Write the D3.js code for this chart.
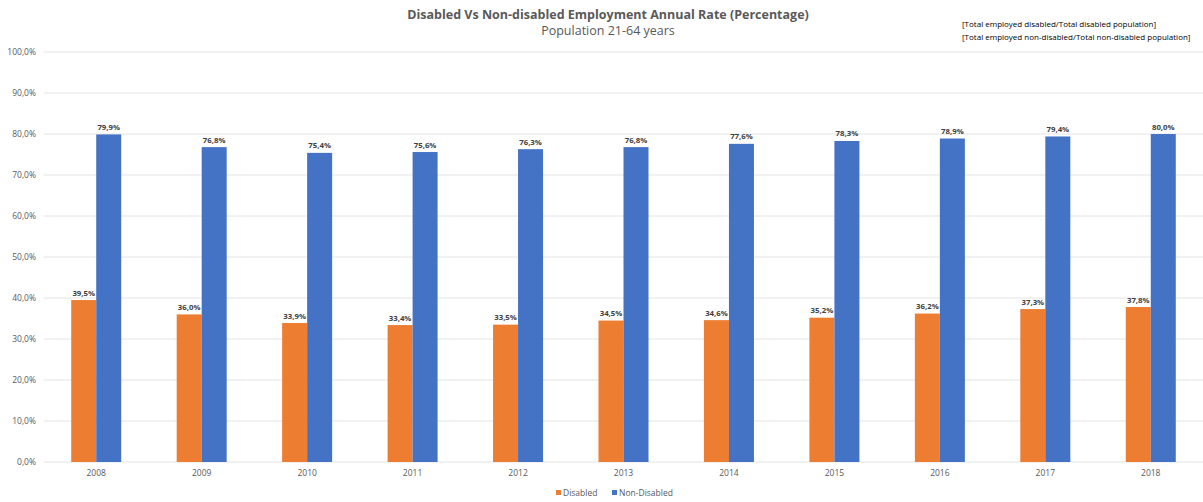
<!DOCTYPE html>
<html>
<head>
<meta charset="utf-8">
<script src="https://cdn.jsdelivr.net/npm/d3@7"></script>
<style>
  body { margin: 0; background: #fff; }
  svg text { font-family: "Open Sans", "Liberation Sans", sans-serif; }
</style>
</head>
<body>
<div id="chart"></div>
<script>
// employment rate, population 21-64
var years = ["2008", "2009", "2010", "2011", "2012", "2013", "2014", "2015", "2016", "2017", "2018"];
var disabled = [39.5, 36.0, 33.9, 33.4, 33.5, 34.5, 34.6, 35.2, 36.2, 37.3, 37.8];
var nonDisabled = [79.9, 76.8, 75.4, 75.6, 76.3, 76.8, 77.6, 78.3, 78.9, 79.4, 80.0];
var yTicks = [0, 10, 20, 30, 40, 50, 60, 70, 80, 90, 100];
var seriesNames = ["Disabled", "Non-Disabled"];
var colors = ["#ed7d31", "#4472c4"];

var W = 1203, H = 502;
var margin = {left: 43.5, right: -0.5, top: 52, bottom: 40};

var svg = d3.select("#chart").append("svg")
    .attr("width", W).attr("height", H);

var x = d3.scaleBand().domain(years)
    .range([margin.left, W - margin.right]).paddingInner(0).paddingOuter(0);
var y = d3.scaleLinear().domain([0, 100]).range([H - margin.bottom, margin.top]);

var fmt = function(v) { return v.toFixed(1).replace(".", ",") + "%"; };

// grid
svg.append("g").selectAll("line").data(yTicks).enter().append("line")
    .attr("x1", margin.left).attr("x2", W)
    .attr("y1", function(d) { return y(d); }).attr("y2", function(d) { return y(d); })
    .attr("stroke", "#e4e4e4").attr("stroke-width", 1);

svg.append("g").selectAll("text").data(yTicks).enter().append("text")
    .attr("x", 36).attr("y", function(d) { return y(d) + 3; })
    .attr("text-anchor", "end").attr("font-size", 8.5).attr("fill", "#595959")
    .text(fmt);

// x labels
svg.append("g").selectAll("text").data(years).enter().append("text")
    .attr("x", function(d) { return x(d) + x.bandwidth() / 2; })
    .attr("y", H - margin.bottom + 14)
    .attr("text-anchor", "middle").attr("font-size", 8.5).attr("fill", "#595959")
    .text(function(d) { return d; });

var barW = 25;
var series = [disabled, nonDisabled];

series.forEach(function(vals, si) {
    var g = svg.append("g");
    var data = years.map(function(yr, i) { return {year: yr, v: vals[i]}; });
    g.selectAll("rect").data(data).enter().append("rect")
        .attr("x", function(d) { return x(d.year) + x.bandwidth() / 2 - barW + si * barW; })
        .attr("width", barW)
        .attr("y", function(d) { return y(d.v); })
        .attr("height", function(d) { return y(0) - y(d.v); })
        .attr("fill", colors[si]);
    g.selectAll("text").data(data).enter().append("text")
        .attr("x", function(d) { return x(d.year) + x.bandwidth() / 2 - barW / 2 + si * barW; })
        .attr("y", function(d) { return y(d.v) - 4.5; })
        .attr("text-anchor", "middle").attr("font-size", 7.8).attr("font-weight", "bold")
        .attr("fill", "#404040")
        .text(function(d) { return fmt(d.v); });
});

// title
svg.append("text").attr("x", 608).attr("y", 19)
    .attr("text-anchor", "middle").attr("font-size", 12.5).attr("font-weight", "bold")
    .attr("fill", "#595959")
    .text("Disabled Vs Non-disabled Employment Annual Rate (Percentage)");
svg.append("text").attr("x", 608).attr("y", 35)
    .attr("text-anchor", "middle").attr("font-size", 12.5)
    .attr("fill", "#595959")
    .text("Population 21-64 years");

svg.append("text").attr("x", 962).attr("y", 27)
    .attr("font-size", 8).attr("fill", "#000")
    .text("[Total employed disabled/Total disabled population]");
svg.append("text").attr("x", 962).attr("y", 40)
    .attr("font-size", 8).attr("fill", "#000")
    .text("[Total employed non-disabled/Total non-disabled population]");

// legend
var legX = [556, 612];
seriesNames.forEach(function(n, i) {
    svg.append("rect").attr("x", legX[i]).attr("y", 490)
        .attr("width", 5).attr("height", 5).attr("fill", colors[i]);
    svg.append("text").attr("x", legX[i] + 7).attr("y", 496)
        .attr("font-size", 8.5).attr("fill", "#595959").text(n);
});
</script>
</body>
</html>
